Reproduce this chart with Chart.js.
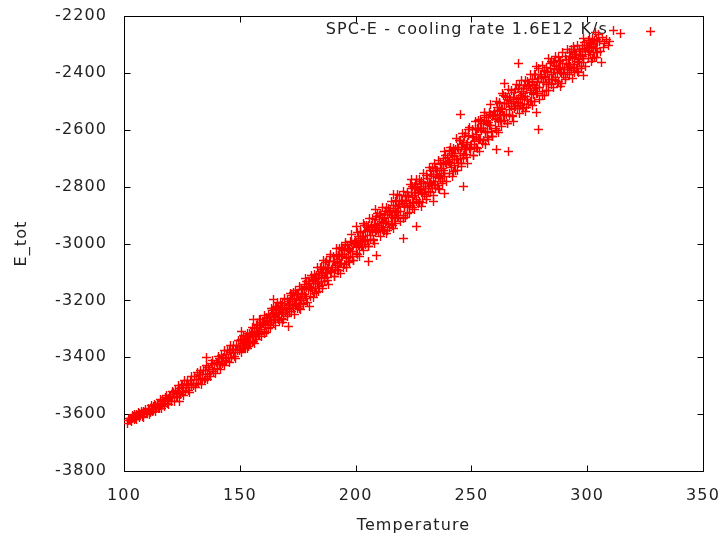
<!DOCTYPE html>
<html>
<head>
<meta charset="utf-8">
<script src="https://cdn.jsdelivr.net/npm/chart.js@4.4.1/dist/chart.umd.min.js"></script>
<style>
  html, body { margin: 0; padding: 0; background: #fff; }
  #wrap { width: 722px; height: 540px; }
</style>
</head>
<body>
<div id="wrap"><canvas id="c" width="722" height="540"></canvas></div>
<script>
// ---- data ----
const seriesLabel = "SPC-E - cooling rate 1.6E12 K/s";
const xTitle = "Temperature";
const yTitle = "E_tot";
const xTicks = [100, 150, 200, 250, 300, 350];
const yTicks = [-3800, -3600, -3400, -3200, -3000, -2800, -2600, -2400, -2200];

const temperature = [
  101.7, 102.0, 102.3, 102.6, 102.9, 103.2, 103.5, 103.8, 104.1, 104.4, 104.7,
  105.1, 105.4, 105.6, 105.9, 106.2, 106.5, 106.8, 107.1, 107.4, 107.8, 108.0, 108.3, 108.6, 109.0, 109.3, 109.8,
  110.2, 110.5, 110.8, 111.1, 111.4, 111.7, 112.0, 112.3, 112.6, 112.9, 113.2, 113.5, 113.8, 114.1, 114.4, 114.7,
  115.1, 115.4, 115.6, 115.9, 116.2, 116.5, 116.8, 117.1, 117.4, 117.8, 118.0, 118.3, 118.6, 119.0, 119.3, 119.8,
  120.2, 120.5, 120.8, 121.1, 121.4, 121.7, 122.0, 122.3, 122.6, 122.9, 123.2, 123.5, 123.8, 124.1, 124.4, 124.7,
  125.1, 125.4, 125.6, 125.9, 126.2, 126.5, 126.8, 127.1, 127.4, 127.8, 128.0, 128.3, 128.6, 129.0, 129.3, 129.8,
  130.2, 130.5, 130.8, 131.1, 131.4, 131.7, 132.0, 132.3, 132.6, 132.9, 133.2, 133.5, 133.8, 134.1, 134.4, 134.7,
  135.1, 135.4, 135.6, 135.9, 136.2, 136.5, 136.8, 137.1, 137.4, 137.8, 138.0, 138.3, 138.6, 139.0, 139.3, 139.8,
  140.2, 140.5, 140.8, 141.1, 141.4, 141.7, 142.0, 142.3, 142.6, 142.9, 143.2, 143.5, 143.8, 144.1, 144.4, 144.7,
  145.1, 145.4, 145.6, 145.9, 146.2, 146.5, 146.8, 147.1, 147.4, 147.8, 148.0, 148.3, 148.6, 149.0, 149.3, 149.8,
  150.2, 150.5, 150.8, 151.1, 151.4, 151.7, 152.0, 152.3, 152.6, 152.9, 153.2, 153.5, 153.8, 154.1, 154.4, 154.7,
  155.1, 155.4, 155.6, 155.9, 156.2, 156.5, 156.8, 157.1, 157.4, 157.8, 158.0, 158.3, 158.6, 159.0, 159.3, 159.8,
  160.2, 160.5, 160.8, 161.1, 161.4, 161.7, 162.0, 162.3, 162.6, 162.9, 163.2, 163.5, 163.8, 164.1, 164.4, 164.7,
  165.1, 165.4, 165.6, 165.9, 166.2, 166.5, 166.8, 167.1, 167.4, 167.8, 168.0, 168.3, 168.6, 169.0, 169.3, 169.8,
  170.2, 170.5, 170.8, 171.1, 171.4, 171.7, 172.0, 172.3, 172.6, 172.9, 173.2, 173.5, 173.8, 174.1, 174.4, 174.7,
  175.1, 175.4, 175.6, 175.9, 176.2, 176.5, 176.8, 177.1, 177.4, 177.8, 178.0, 178.3, 178.6, 179.0, 179.3, 179.8,
  180.2, 180.5, 180.8, 181.1, 181.4, 181.7, 182.0, 182.3, 182.6, 182.9, 183.2, 183.5, 183.8, 184.1, 184.4, 184.7,
  185.1, 185.4, 185.6, 185.9, 186.2, 186.5, 186.8, 187.1, 187.4, 187.8, 188.0, 188.3, 188.6, 189.0, 189.3, 189.8,
  190.2, 190.5, 190.8, 191.1, 191.4, 191.7, 192.0, 192.3, 192.6, 192.9, 193.2, 193.5, 193.8, 194.1, 194.4, 194.7,
  195.1, 195.4, 195.6, 195.9, 196.2, 196.5, 196.8, 197.1, 197.4, 197.8, 198.0, 198.3, 198.6, 199.0, 199.3, 199.8,
  200.2, 200.5, 200.8, 201.1, 201.4, 201.7, 202.0, 202.3, 202.6, 202.9, 203.2, 203.5, 203.8, 204.1, 204.4, 204.7,
  205.1, 205.4, 205.6, 205.9, 206.2, 206.5, 206.8, 207.1, 207.4, 207.8, 208.0, 208.3, 208.6, 209.0, 209.3, 209.8,
  210.2, 210.5, 210.8, 211.1, 211.4, 211.7, 212.0, 212.3, 212.6, 212.9, 213.2, 213.5, 213.8, 214.1, 214.4, 214.7,
  215.1, 215.4, 215.6, 215.9, 216.2, 216.5, 216.8, 217.1, 217.4, 217.8, 218.0, 218.3, 218.6, 219.0, 219.3, 219.8,
  220.2, 220.5, 220.8, 221.1, 221.4, 221.7, 222.0, 222.3, 222.6, 222.9, 223.2, 223.5, 223.8, 224.1, 224.4, 224.7,
  225.1, 225.4, 225.6, 225.9, 226.2, 226.5, 226.8, 227.1, 227.4, 227.8, 228.0, 228.3, 228.6, 229.0, 229.3, 229.8,
  230.2, 230.5, 230.8, 231.1, 231.4, 231.7, 232.0, 232.3, 232.6, 232.9, 233.2, 233.5, 233.8, 234.1, 234.4, 234.7,
  235.1, 235.4, 235.6, 235.9, 236.2, 236.5, 236.8, 237.1, 237.4, 237.8, 238.0, 238.3, 238.6, 239.0, 239.3, 239.8,
  240.2, 240.5, 240.8, 241.1, 241.4, 241.7, 242.0, 242.3, 242.6, 242.9, 243.2, 243.5, 243.8, 244.1, 244.4, 244.7,
  245.1, 245.4, 245.6, 245.9, 246.2, 246.5, 246.8, 247.1, 247.4, 247.8, 248.0, 248.3, 248.6, 249.0, 249.3, 249.8,
  250.2, 250.5, 250.8, 251.1, 251.4, 251.7, 252.0, 252.3, 252.6, 252.9, 253.2, 253.5, 253.8, 254.1, 254.4, 254.7,
  255.1, 255.4, 255.6, 255.9, 256.2, 256.5, 256.8, 257.1, 257.4, 257.8, 258.0, 258.3, 258.6, 259.0, 259.3, 259.8,
  260.2, 260.5, 260.8, 261.1, 261.4, 261.7, 262.0, 262.3, 262.6, 262.9, 263.2, 263.5, 263.8, 264.1, 264.4, 264.7,
  265.1, 265.4, 265.6, 265.9, 266.2, 266.5, 266.8, 267.1, 267.4, 267.8, 268.0, 268.3, 268.6, 269.0, 269.3, 269.8,
  270.2, 270.5, 270.8, 271.1, 271.4, 271.7, 272.0, 272.3, 272.6, 272.9, 273.2, 273.5, 273.8, 274.1, 274.4, 274.7,
  275.1, 275.4, 275.6, 275.9, 276.2, 276.5, 276.8, 277.1, 277.4, 277.8, 278.0, 278.3, 278.6, 279.0, 279.3, 279.8,
  280.2, 280.5, 280.8, 281.1, 281.4, 281.7, 282.0, 282.3, 282.6, 282.9, 283.2, 283.5, 283.8, 284.1, 284.4, 284.7,
  285.1, 285.4, 285.6, 285.9, 286.2, 286.5, 286.8, 287.1, 287.4, 287.8, 288.0, 288.3, 288.6, 289.0, 289.3, 289.8,
  290.2, 290.5, 290.8, 291.1, 291.4, 291.7, 292.0, 292.3, 292.6, 292.9, 293.2, 293.5, 293.8, 294.1, 294.4, 294.7,
  295.1, 295.4, 295.6, 295.9, 296.2, 296.5, 296.8, 297.1, 297.4, 297.8, 298.0, 298.3, 298.6, 299.0, 299.3, 299.8,
  300.2, 300.5, 300.8, 301.1, 301.4, 301.7, 302.0, 302.3, 302.6, 302.9, 303.2, 303.5, 303.8, 304.1, 304.4, 304.7,
  305.3, 305.8, 306.4, 306.9, 307.6, 308.2, 309.0, 309.8,
  150.35, 150.75, 151.25, 151.65, 152.15, 152.55, 153.05, 153.45, 153.95, 154.45,
  155.35, 155.75, 156.25, 156.65, 157.15, 157.55, 158.05, 158.45, 158.95, 159.45,
  160.35, 160.75, 161.25, 161.65, 162.15, 162.55, 163.05, 163.45, 163.95, 164.45,
  165.35, 165.75, 166.25, 166.65, 167.15, 167.55, 168.05, 168.45, 168.95, 169.45,
  170.35, 170.75, 171.25, 171.65, 172.15, 172.55, 173.05, 173.45, 173.95, 174.45,
  175.35, 175.75, 176.25, 176.65, 177.15, 177.55, 178.05, 178.45, 178.95, 179.45,
  180.35, 180.75, 181.25, 181.65, 182.15, 182.55, 183.05, 183.45, 183.95, 184.45,
  185.35, 185.75, 186.25, 186.65, 187.15, 187.55, 188.05, 188.45, 188.95, 189.45,
  190.35, 190.75, 191.25, 191.65, 192.15, 192.55, 193.05, 193.45, 193.95, 194.45,
  195.35, 195.75, 196.25, 196.65, 197.15, 197.55, 198.05, 198.45, 198.95, 199.45,
  200.35, 200.75, 201.25, 201.65, 202.15, 202.55, 203.05, 203.45, 203.95, 204.45,
  205.35, 205.75, 206.25, 206.65, 207.15, 207.55, 208.05, 208.45, 208.95, 209.45,
  210.35, 210.75, 211.25, 211.65, 212.15, 212.55, 213.05, 213.45, 213.95, 214.45,
  215.35, 215.75, 216.25, 216.65, 217.15, 217.55, 218.05, 218.45, 218.95, 219.45,
  220.35, 220.75, 221.25, 221.65, 222.15, 222.55, 223.05, 223.45, 223.95, 224.45,
  225.35, 225.75, 226.25, 226.65, 227.15, 227.55, 228.05, 228.45, 228.95, 229.45,
  230.35, 230.75, 231.25, 231.65, 232.15, 232.55, 233.05, 233.45, 233.95, 234.45,
  235.35, 235.75, 236.25, 236.65, 237.15, 237.55, 238.05, 238.45, 238.95, 239.45,
  240.35, 240.75, 241.25, 241.65, 242.15, 242.55, 243.05, 243.45, 243.95, 244.45,
  245.35, 245.75, 246.25, 246.65, 247.15, 247.55, 248.05, 248.45, 248.95, 249.45,
  250.35, 250.75, 251.25, 251.65, 252.15, 252.55, 253.05, 253.45, 253.95, 254.45,
  255.35, 255.75, 256.25, 256.65, 257.15, 257.55, 258.05, 258.45, 258.95, 259.45,
  260.35, 260.75, 261.25, 261.65, 262.15, 262.55, 263.05, 263.45, 263.95, 264.45,
  265.35, 265.75, 266.25, 266.65, 267.15, 267.55, 268.05, 268.45, 268.95, 269.45,
  270.35, 270.75, 271.25, 271.65, 272.15, 272.55, 273.05, 273.45, 273.95, 274.45,
  275.35, 275.75, 276.25, 276.65, 277.15, 277.55, 278.05, 278.45, 278.95, 279.45,
  280.35, 280.75, 281.25, 281.65, 282.15, 282.55, 283.05, 283.45, 283.95, 284.45,
  285.35, 285.75, 286.25, 286.65, 287.15, 287.55, 288.05, 288.45, 288.95, 289.45,
  290.35, 290.75, 291.25, 291.65, 292.15, 292.55, 293.05, 293.45, 293.95, 294.45,
  295.35, 295.75, 296.25, 296.65, 297.15, 297.55, 298.05, 298.45, 298.95, 299.45,
  300.35, 300.75, 301.25, 301.65, 302.15, 302.55, 303.05, 303.45, 303.95, 304.45,
  123.8, 135.7, 150.8, 155.8, 164.5, 170.9, 180.3, 205.5, 209.1, 220.6,
  208.4, 200.5, 216.3, 224.2, 226.4, 233.6, 238.6, 245.1, 265.9, 278.9,
  270.3, 264.5, 260.9, 246.5, 277.9, 306.3, 298.3, 314.2, 311.3
];

const eTot = [
  -3633, -3621, -3614, -3624, -3615, -3626, -3605, -3617, -3609, -3618, -3603,
  -3614, -3600, -3619, -3604, -3593, -3611, -3599, -3603, -3591, -3608, -3598, -3611, -3590, -3599, -3583, -3598,
  -3594, -3580, -3602, -3585, -3593, -3569, -3583, -3591, -3574, -3582, -3565, -3591, -3570, -3579, -3562, -3581,
  -3561, -3579, -3548, -3568, -3581, -3552, -3567, -3557, -3573, -3543, -3556, -3533, -3562, -3544, -3566, -3538,
  -3540, -3556, -3520, -3541, -3525, -3556, -3532, -3516, -3538, -3521, -3543, -3500, -3527, -3510, -3531, -3499,
  -3523, -3496, -3534, -3505, -3483, -3520, -3495, -3505, -3481, -3517, -3496, -3524, -3482, -3500, -3468, -3500,
  -3491, -3469, -3507, -3478, -3493, -3452, -3478, -3492, -3462, -3478, -3448, -3496, -3459, -3475, -3447, -3481,
  -3448, -3474, -3430, -3459, -3478, -3436, -3458, -3444, -3466, -3423, -3443, -3410, -3451, -3427, -3458, -3417,
  -3422, -3441, -3399, -3424, -3406, -3443, -3414, -3395, -3422, -3402, -3429, -3377, -3410, -3390, -3415, -3377,
  -3405, -3375, -3417, -3384, -3360, -3400, -3373, -3384, -3357, -3396, -3373, -3404, -3357, -3377, -3341, -3377,
  -3367, -3341, -3384, -3352, -3368, -3323, -3351, -3367, -3333, -3351, -3318, -3370, -3330, -3348, -3316, -3353,
  -3316, -3347, -3295, -3328, -3351, -3300, -3327, -3310, -3337, -3285, -3309, -3269, -3319, -3289, -3326, -3277,
  -3283, -3309, -3252, -3286, -3262, -3312, -3274, -3250, -3286, -3260, -3296, -3228, -3271, -3245, -3279, -3229,
  -3268, -3226, -3287, -3241, -3208, -3266, -3229, -3245, -3208, -3265, -3233, -3277, -3211, -3242, -3192, -3244,
  -3231, -3196, -3258, -3214, -3238, -3175, -3215, -3239, -3193, -3219, -3173, -3249, -3193, -3219, -3175, -3230,
  -3179, -3222, -3151, -3199, -3232, -3162, -3200, -3178, -3216, -3145, -3179, -3124, -3195, -3154, -3207, -3141,
  -3151, -3185, -3112, -3156, -3125, -3191, -3141, -3110, -3157, -3124, -3171, -3083, -3140, -3106, -3151, -3086,
  -3135, -3084, -3158, -3102, -3061, -3132, -3086, -3105, -3059, -3129, -3089, -3144, -3063, -3100, -3038, -3101,
  -3085, -3044, -3116, -3065, -3093, -3019, -3067, -3095, -3041, -3071, -3017, -3106, -3040, -3071, -3020, -3084,
  -3026, -3073, -2995, -3048, -3085, -3008, -3050, -3026, -3068, -2992, -3029, -2969, -3047, -3003, -3061, -2989,
  -3000, -3036, -2960, -3007, -2975, -3044, -2992, -2960, -3010, -2974, -3024, -2931, -2992, -2957, -3004, -2936,
  -2988, -2935, -3012, -2954, -2913, -2986, -2939, -2959, -2912, -2985, -2944, -3001, -2917, -2956, -2893, -2959,
  -2942, -2900, -2975, -2922, -2951, -2875, -2925, -2954, -2898, -2930, -2874, -2966, -2899, -2931, -2877, -2944,
  -2884, -2934, -2852, -2908, -2947, -2866, -2911, -2886, -2930, -2849, -2889, -2826, -2908, -2862, -2924, -2848,
  -2860, -2900, -2817, -2869, -2834, -2910, -2854, -2819, -2874, -2836, -2892, -2791, -2858, -2820, -2872, -2798,
  -2855, -2799, -2881, -2819, -2775, -2854, -2803, -2825, -2775, -2853, -2809, -2870, -2781, -2823, -2754, -2826,
  -2808, -2762, -2844, -2785, -2817, -2734, -2788, -2820, -2759, -2793, -2732, -2832, -2759, -2794, -2736, -2808,
  -2742, -2797, -2707, -2767, -2809, -2722, -2770, -2742, -2790, -2702, -2744, -2676, -2765, -2714, -2781, -2698,
  -2711, -2754, -2664, -2720, -2682, -2764, -2703, -2665, -2724, -2683, -2742, -2632, -2705, -2663, -2719, -2639,
  -2701, -2639, -2730, -2662, -2613, -2700, -2645, -2669, -2613, -2699, -2651, -2718, -2620, -2667, -2592, -2670,
  -2651, -2600, -2690, -2626, -2661, -2570, -2629, -2663, -2596, -2635, -2568, -2677, -2596, -2635, -2571, -2650,
  -2579, -2638, -2541, -2607, -2652, -2558, -2610, -2581, -2633, -2538, -2584, -2510, -2607, -2553, -2625, -2536,
  -2550, -2596, -2502, -2561, -2522, -2608, -2545, -2506, -2568, -2525, -2588, -2474, -2550, -2507, -2566, -2482,
  -2548, -2485, -2578, -2508, -2459, -2549, -2492, -2518, -2461, -2550, -2501, -2571, -2470, -2519, -2442, -2524,
  -2504, -2454, -2544, -2481, -2516, -2426, -2485, -2521, -2454, -2493, -2426, -2537, -2456, -2495, -2432, -2512,
  -2441, -2500, -2404, -2470, -2516, -2422, -2475, -2446, -2499, -2404, -2451, -2378, -2474, -2421, -2494, -2406,
  -2421, -2466, -2375, -2433, -2395, -2479, -2418, -2380, -2441, -2400, -2461, -2350, -2425, -2383, -2441, -2360,
  -2424, -2365, -2453, -2388, -2341, -2426, -2374, -2398, -2345, -2429, -2384, -2449, -2355, -2401, -2329, -2407,
  -2388, -2343, -2425, -2368, -2400, -2318, -2372, -2404, -2344, -2379, -2319, -2419, -2346, -2382, -2324, -2397,
  -2334, -2385, -2302, -2359, -2398, -2318, -2363, -2338, -2383, -2302, -2342, -2279, -2362, -2316, -2378, -2303,
  -2316, -2351, -2279, -2325, -2295, -2361, -2312, -2282, -2330, -2298, -2345, -2258, -2316, -2284, -2329, -2265,
  -2290, -2325, -2275, -2310, -2296, -2282, -2305, -2290,
  -3359, -3336, -3364, -3342, -3369, -3342, -3327, -3344, -3362, -3324,
  -3327, -3346, -3308, -3326, -3288, -3312, -3321, -3296, -3269, -3303,
  -3278, -3317, -3287, -3260, -3271, -3298, -3257, -3278, -3236, -3257,
  -3251, -3222, -3261, -3232, -3271, -3235, -3217, -3241, -3267, -3217,
  -3225, -3251, -3203, -3229, -3182, -3214, -3228, -3197, -3164, -3210,
  -3180, -3230, -3194, -3161, -3175, -3210, -3159, -3186, -3135, -3161,
  -3155, -3120, -3166, -3131, -3177, -3134, -3112, -3140, -3170, -3111,
  -3120, -3149, -3093, -3122, -3067, -3104, -3119, -3083, -3044, -3096,
  -3062, -3117, -3078, -3042, -3057, -3096, -3040, -3070, -3015, -3044,
  -3038, -3002, -3051, -3016, -3065, -3021, -2998, -3028, -3061, -3000,
  -3010, -3040, -2984, -3014, -2958, -2996, -3012, -2976, -2936, -2990,
  -2955, -3011, -2971, -2935, -2950, -2990, -2933, -2963, -2906, -2936,
  -2930, -2893, -2944, -2907, -2958, -2912, -2889, -2921, -2955, -2891,
  -2903, -2935, -2877, -2909, -2851, -2891, -2909, -2871, -2830, -2888,
  -2853, -2913, -2871, -2832, -2850, -2893, -2832, -2866, -2806, -2839,
  -2832, -2793, -2846, -2807, -2861, -2813, -2788, -2821, -2856, -2789,
  -2800, -2835, -2772, -2806, -2743, -2787, -2805, -2764, -2720, -2782,
  -2743, -2806, -2761, -2720, -2738, -2783, -2719, -2753, -2689, -2723,
  -2716, -2674, -2732, -2689, -2747, -2695, -2668, -2704, -2742, -2670,
  -2682, -2719, -2652, -2689, -2622, -2668, -2687, -2645, -2598, -2663,
  -2622, -2690, -2642, -2598, -2617, -2665, -2596, -2633, -2565, -2601,
  -2594, -2550, -2611, -2567, -2628, -2574, -2546, -2584, -2624, -2549,
  -2563, -2601, -2533, -2571, -2503, -2551, -2572, -2528, -2481, -2549,
  -2509, -2577, -2530, -2487, -2507, -2555, -2487, -2526, -2458, -2495,
  -2489, -2446, -2507, -2464, -2525, -2471, -2444, -2482, -2523, -2449,
  -2463, -2502, -2434, -2473, -2405, -2454, -2474, -2431, -2384, -2452,
  -2414, -2481, -2435, -2393, -2414, -2461, -2396, -2433, -2368, -2405,
  -2400, -2360, -2418, -2378, -2436, -2386, -2361, -2397, -2436, -2367,
  -2381, -2416, -2354, -2389, -2328, -2372, -2391, -2351, -2308, -2371,
  -2336, -2394, -2354, -2317, -2335, -2376, -2318, -2351, -2293, -2325,
  -2321, -2287, -2334, -2301, -2348, -2307, -2286, -2316, -2347, -2290,
  -3555, -3402, -3310, -3268, -3197, -3291, -3221, -3063, -3042, -2981,
  -2881, -2940, -2829, -2776, -2940, -2852, -2823, -2548, -2677, -2600,
  -2366, -2436, -2671, -2800, -2538, -2363, -2410, -2263, -2252
];

// ---- chart ----
const FONT = "'DejaVu Sans', 'Liberation Sans', sans-serif";
const TEXT = '#222';
const RED = '#ff0000';
const SPACING = '1.1px';

const points = temperature.map((t, i) => ({ x: t, y: eTot[i] }));

const letterSpacingPlugin = {
  id: 'letterSpacing',
  beforeUpdate(chart) { chart.ctx.letterSpacing = SPACING; },
  beforeDraw(chart) { chart.ctx.letterSpacing = SPACING; }
};

// snap the scale-computed point positions to pixel centres
const crispPoints = {
  id: 'crispPoints',
  afterDatasetUpdate(chart, args) {
    args.meta.data.forEach(el => {
      el.x = Math.floor(el.x) + 0.5;
      el.y = Math.floor(el.y) + 0.5;
    });
  }
};

const gnuplotFrame = {
  id: 'gnuplotFrame',
  beforeDatasetsDraw(chart) {
    const { ctx, chartArea: a, scales } = chart;
    const xs = scales.x, ys = scales.y;
    ctx.save();
    ctx.strokeStyle = '#000';
    ctx.lineWidth = 1;
    const L = Math.round(a.left) + 0.5, R = Math.round(a.right) + 0.5;
    const T = Math.round(a.top) + 0.5, B = Math.round(a.bottom) + 0.5;
    ctx.beginPath();
    ctx.rect(L, T, R - L, B - T);
    ctx.stroke();
    const tl = 6;
    ctx.beginPath();
    xTicks.forEach(v => {
      const px = Math.round(xs.getPixelForValue(v)) + 0.5;
      ctx.moveTo(px, B); ctx.lineTo(px, B - tl);
      ctx.moveTo(px, T); ctx.lineTo(px, T + tl);
    });
    yTicks.forEach(v => {
      const py = Math.round(ys.getPixelForValue(v)) + 0.5;
      ctx.moveTo(L, py); ctx.lineTo(L + tl, py);
      ctx.moveTo(R, py); ctx.lineTo(R - tl, py);
    });
    ctx.stroke();
    // key (legend) in gnuplot style: text, then sample marker
    ctx.letterSpacing = SPACING;
    ctx.fillStyle = TEXT;
    ctx.font = '16px ' + FONT;
    ctx.textAlign = 'right';
    ctx.textBaseline = 'middle';
    ctx.fillText(seriesLabel, 608, 30);
    ctx.strokeStyle = RED;
    ctx.lineWidth = 1.4;
    ctx.beginPath();
    const mx = 650.5, my = 31.5, r = 4.5;
    ctx.moveTo(mx - r, my); ctx.lineTo(mx + r, my);
    ctx.moveTo(mx, my - r); ctx.lineTo(mx, my + r);
    ctx.stroke();
    ctx.restore();
  }
};

new Chart(document.getElementById('c'), {
  type: 'scatter',
  data: {
    datasets: [{
      label: seriesLabel,
      data: points,
      pointStyle: 'cross',
      pointRadius: 4.5,
      pointBorderWidth: 1.4,
      pointBorderColor: RED,
      pointBackgroundColor: RED,
      borderColor: RED,
      backgroundColor: RED,
      showLine: false
    }]
  },
  options: {
    responsive: false,
    animation: false,
    devicePixelRatio: 1,
    events: [],
    layout: { padding: { left: 0, right: 19, top: 16, bottom: 0 } },
    plugins: { legend: { display: false }, tooltip: { enabled: false } },
    scales: {
      x: {
        type: 'linear', min: 100, max: 350,
        afterBuildTicks: s => { s.ticks = xTicks.map(v => ({ value: v })); },
        afterFit: s => { s.height = 69; s.paddingLeft = 0; s.paddingRight = 0; },
        grid: { display: false, drawTicks: false },
        border: { display: false },
        ticks: { color: TEXT, font: { family: FONT, size: 16 }, padding: 15, maxRotation: 0,
                 callback: v => String(v) },
        title: { display: true, text: xTitle, color: TEXT, font: { family: FONT, size: 16 }, padding: { top: 0, bottom: 5 } }
      },
      y: {
        type: 'linear', min: -3800, max: -2200,
        afterBuildTicks: s => { s.ticks = yTicks.map(v => ({ value: v })); },
        afterFit: s => { s.width = 124; s.paddingTop = 0; s.paddingBottom = 0; },
        grid: { display: false, drawTicks: false },
        border: { display: false },
        ticks: { color: TEXT, font: { family: FONT, size: 16 }, padding: 17,
                 callback: v => String(v) },
        title: { display: true, text: yTitle, color: TEXT, font: { family: FONT, size: 16 }, padding: { top: 12, bottom: 0 } }
      }
    }
  },
  plugins: [letterSpacingPlugin, crispPoints, gnuplotFrame]
});
</script>
</body>
</html>
